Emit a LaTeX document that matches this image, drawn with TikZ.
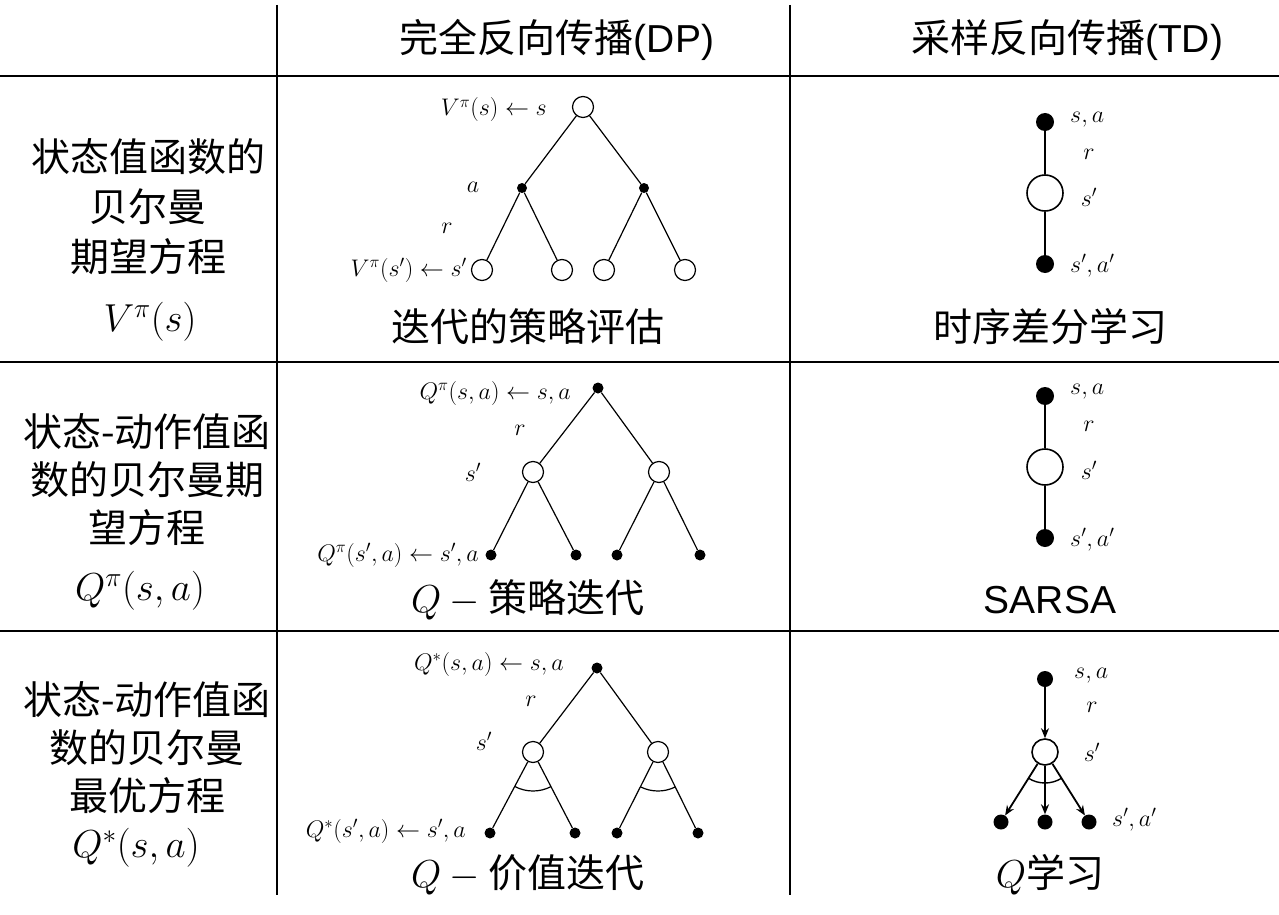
\RequirePackage{fix-cm}
\documentclass[tikz,border=0pt]{standalone}
\usepackage{fontspec}
\setmainfont{Liberation Sans}
\newfontfamily\cjk{Noto Sans CJK SC}
\usetikzlibrary{arrows.meta,calc}
\newcommand\bigtxt{\fontsize{39}{48}\selectfont}
\newcommand\smltxt{\fontsize{24}{28}\selectfont}
\begin{document}
\begin{tikzpicture}[x=1pt,y=-1pt,
  grid/.style={line width=2pt,black},
  edge/.style={line width=1.2pt},
  tdedge/.style={line width=2pt},
  opn/.style={circle,draw,line width=1.2pt,fill=white,inner sep=0pt,minimum size=21pt},
  fil/.style={circle,fill=black,inner sep=0pt,minimum size=10pt},
  topn/.style={circle,draw,line width=1.6pt,fill=white,inner sep=0pt,minimum size=36pt},
  tfil/.style={circle,fill=black,inner sep=0pt,minimum size=18pt},
  lbl/.style={font=\smltxt,inner sep=0pt},
  big/.style={font=\bigtxt,inner sep=0pt,align=center},
  arr/.style={line width=1.8pt,-{Stealth[length=10pt,width=8pt]}}]
\useasboundingbox (0,0) rectangle (1279,915);
% grid
\coordinate (v1t) at (277,5); \coordinate (v1b) at (277,895);
\coordinate (v2t) at (790,5); \coordinate (v2b) at (790,895);
\coordinate (h1l) at (0,76); \coordinate (h1r) at (1279,76);
\coordinate (h2l) at (0,362); \coordinate (h2r) at (1279,362);
\coordinate (h3l) at (0,631); \coordinate (h3r) at (1279,631);
\draw[grid] (v1t) -- (v1b);
\draw[grid] (v2t) -- (v2b);
\draw[grid] (h1l) -- (h1r);
\draw[grid] (h2l) -- (h2r);
\draw[grid] (h3l) -- (h3r);
% headers
\node[big] (hdp) at (557,40) {{\cjk 完全反向传播}(DP)};
\node[big] (htd) at (1067,40) {{\cjk 采样反向传播}(TD)};
% left column
\node[big,font=\fontsize{39}{50}\selectfont\cjk] (l1) at (148,207) {状态值函数的\\贝尔曼\\期望方程};
\node[big] (l1m) at (150,322) {$V^{\pi}(s)$};
\node[big,font=\fontsize{39}{48}\selectfont\cjk] (l2) at (147,480) {状态-动作值函\\数的贝尔曼期\\望方程};
\node[big] (l2m) at (140,591) {$Q^{\pi}(s,a)$};
\node[big,font=\fontsize{39}{48}\selectfont\cjk] (l3) at (147,748) {状态-动作值函\\数的贝尔曼\\最优方程};
\node[big] (l3m) at (136,848) {$Q^{*}(s,a)$};

% ===== Row 1 DP =====
\node[opn] (a0) at (583,107) {};
\node[fil] (a1) at (522,188) {};
\node[fil] (a2) at (644,188) {};
\node[opn] (a11) at (482,270) {};
\node[opn] (a12) at (562,270) {};
\node[opn] (a21) at (604,270) {};
\node[opn] (a22) at (685,270) {};
\draw[edge] (a0) -- (a1); \draw[edge] (a0) -- (a2);
\draw[edge] (a1) -- (a11); \draw[edge] (a1) -- (a12);
\draw[edge] (a2) -- (a21); \draw[edge] (a2) -- (a22);
\node[lbl,anchor=east] (la0) at (547,110) {$V^{\pi}(s)\leftarrow s$};
\node[lbl] (la1) at (473,187) {$a$};
\node[lbl] (la2) at (447,228) {$r$};
\node[lbl,anchor=east] (la3) at (467,270) {$V^{\pi}(s')\leftarrow s'$};
\node[big,font=\bigtxt\cjk] (ca) at (528,327) {迭代的策略评估};

% ===== Row 1 TD =====
\node[tfil] (b0) at (1045,122) {};
\node[topn] (b1) at (1045,193) {};
\node[tfil] (b2) at (1045,264) {};
\draw[tdedge] (b0) -- (b1); \draw[tdedge] (b1) -- (b2);
\node[lbl,anchor=west] (lb0) at (1070,120) {$s,a$};
\node[lbl] (lb1) at (1089,154) {$r$};
\node[lbl] (lb2) at (1089,197) {$s'$};
\node[lbl,anchor=west] (lb3) at (1070,266) {$s',a'$};
\node[big,font=\bigtxt\cjk] (cb) at (1050,327) {时序差分学习};

% ===== Row 2 DP =====
\node[fil,minimum size=11pt] (c0) at (598,388) {};
\node[opn] (c1) at (533,472) {};
\node[opn] (c2) at (659,472) {};
\node[fil,minimum size=11pt] (c11) at (491,555) {};
\node[fil,minimum size=11pt] (c12) at (576,555) {};
\node[fil,minimum size=11pt] (c21) at (617,555) {};
\node[fil,minimum size=11pt] (c22) at (700,555) {};
\draw[edge] (c0) -- (c1); \draw[edge] (c0) -- (c2);
\draw[edge] (c1) -- (c11); \draw[edge] (c1) -- (c12);
\draw[edge] (c2) -- (c21); \draw[edge] (c2) -- (c22);
\node[lbl,anchor=east] (lc0) at (571,393) {$Q^{\pi}(s,a)\leftarrow s,a$};
\node[lbl] (lc1) at (520,430) {$r$};
\node[lbl] (lc2) at (473,472) {$s'$};
\node[lbl,anchor=east] (lc3) at (479,555) {$Q^{\pi}(s',a)\leftarrow s',a$};
\node[big] (cc) at (528,600) {$Q-{}${\cjk 策略迭代}};

% ===== Row 2 TD =====
\node[tfil] (d0) at (1045,396) {};
\node[topn] (d1) at (1045,467) {};
\node[tfil] (d2) at (1045,538) {};
\draw[tdedge] (d0) -- (d1); \draw[tdedge] (d1) -- (d2);
\node[lbl,anchor=west] (ld0) at (1070,392) {$s,a$};
\node[lbl] (ld1) at (1089,426) {$r$};
\node[lbl] (ld2) at (1089,470) {$s'$};
\node[lbl,anchor=west] (ld3) at (1070,540) {$s',a'$};
\node[big] (cd) at (1050,600) {SARSA};

% ===== Row 3 DP =====
\node[fil,minimum size=11pt] (e0) at (597,668) {};
\node[opn] (e1) at (533,752) {};
\node[opn] (e2) at (658,752) {};
\node[fil,minimum size=11pt] (e11) at (490,833) {};
\node[fil,minimum size=11pt] (e12) at (575,833) {};
\node[fil,minimum size=11pt] (e21) at (617,833) {};
\node[fil,minimum size=11pt] (e22) at (698,833) {};
\draw[edge] (e0) -- (e1); \draw[edge] (e0) -- (e2);
\draw[edge] (e1) -- (e11); \draw[edge] (e1) -- (e12);
\draw[edge] (e2) -- (e21); \draw[edge] (e2) -- (e22);
\draw[edge] ($(e1)+(62.6:39)$) arc[start angle=62.6,end angle=117.9,radius=39];
\draw[edge] ($(e2)+(63.7:39)$) arc[start angle=63.7,end angle=116.8,radius=39];
\node[lbl,anchor=east] (le0) at (564,664) {$Q^{*}(s,a)\leftarrow s,a$};
\node[lbl] (le1) at (531,701) {$r$};
\node[lbl] (le2) at (484,741) {$s'$};
\node[lbl,anchor=east] (le3) at (466,831) {$Q^{*}(s',a)\leftarrow s',a$};
\node[big] (ce) at (528,875) {$Q-{}${\cjk 价值迭代}};

% ===== Row 3 TD =====
\node[tfil,minimum size=16pt] (f0) at (1045,679) {};
\node[topn,minimum size=26pt] (f1) at (1045,752) {};
\node[tfil,minimum size=15pt] (f11) at (1001,822) {};
\node[tfil,minimum size=15pt] (f12) at (1045,822) {};
\node[tfil,minimum size=15pt] (f13) at (1089,822) {};
\draw[arr] (f0) -- (f1);
\draw[arr] (f1) -- (f11);
\draw[arr] (f1) -- (f12);
\draw[arr] (f1) -- (f13);
\draw[tdedge,line width=1.4pt] ($(f1)+(57.8:31)$) arc[start angle=57.8,end angle=122.2,radius=31];
\node[lbl,anchor=west] (lf0) at (1074,676) {$s,a$};
\node[lbl] (lf1) at (1092,707) {$r$};
\node[lbl] (lf2) at (1092,752) {$s'$};
\node[lbl,anchor=west] (lf3) at (1112,820) {$s',a'$};
\node[big] (cf) at (1050,875) {$Q${\cjk 学习}};
\end{tikzpicture}
\end{document}
